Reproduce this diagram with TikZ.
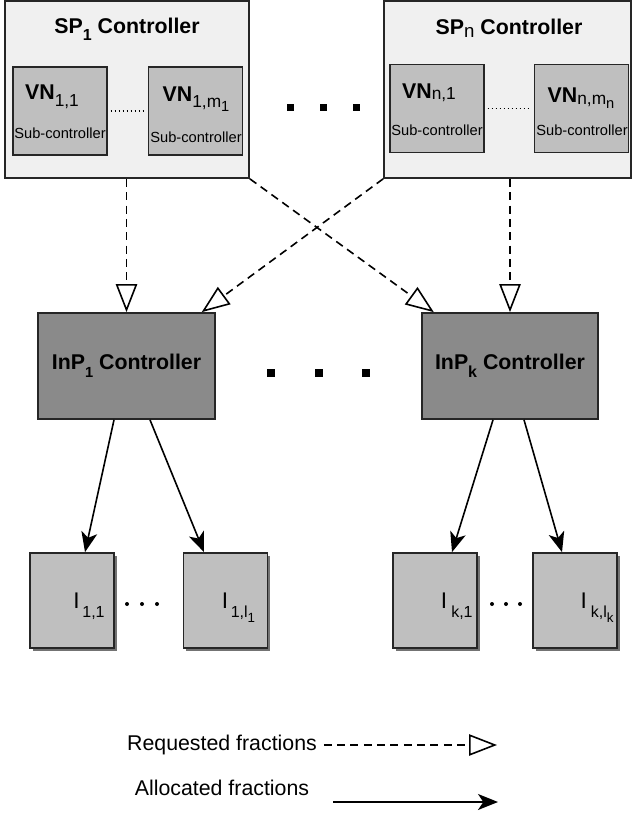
\documentclass[tikz,border=0pt]{standalone}
\usepackage{fontspec}
\setmainfont{Liberation Sans}
\usetikzlibrary{arrows.meta, calc, shadows}

\definecolor{spfill}{gray}{0.94}
\definecolor{vnfill}{gray}{0.75}
\definecolor{inpfill}{gray}{0.54}
\definecolor{ifill}{gray}{0.75}

% lowered index: [size]{drop}{text}
\newcommand{\lowtext}[3][11]{\raisebox{-#2}{\fontsize{#1}{#1}\selectfont #3}}

\tikzset{
  spbox/.style={draw=black!85, line width=1.3pt, fill=spfill, inner sep=0pt, minimum height=132.75pt},
  vnbox/.style={draw=black!85, line width=1.3pt, fill=vnfill, inner sep=0pt, minimum width=70.5pt, minimum height=66pt},
  inpbox/.style={draw=black!85, line width=1.3pt, fill=inpfill, inner sep=0pt, minimum width=132.5pt, minimum height=79.5pt, font=\fontsize{16}{18}\selectfont\bfseries},
  ibox/.style={draw=black!85, line width=1.3pt, fill=ifill, inner sep=0pt, minimum width=63pt, minimum height=71.25pt, drop shadow={shadow xshift=2pt, shadow yshift=-2pt, fill=black!55, opacity=1}},
  titletext/.style={font=\fontsize{16}{18}\selectfont\bfseries, inner sep=0pt},
  vntext/.style={font=\fontsize{16}{18}\selectfont, inner sep=0pt},
  subtext/.style={font=\fontsize{11}{12}\selectfont, inner sep=0pt},
  itext/.style={font=\fontsize{17}{19}\selectfont, inner sep=0pt, anchor=base east},
  legendtext/.style={font=\fontsize{16}{18}\selectfont, inner sep=0pt},
  vndots/.style={line width=1.2pt, dash pattern=on 1.2pt off 1.8pt, shorten <=2pt, shorten >=2pt},
  reqarrow/.style={line width=1.2pt, dash pattern=on 6pt off 4pt, -{Triangle[open, length=21pt, width=16pt, line width=1.2pt]}},
  allocarrow/.style={line width=1.2pt, -{Stealth[length=15pt, width=12pt, inset=4pt]}},
}

\begin{document}
\begin{tikzpicture}[x=0.75pt, y=-0.75pt]
  \useasboundingbox (0,0) rectangle (632,816);

  % SP controllers
  \node[spbox, minimum width=183pt] (SP1) at (127,89.5) {};
  \node[spbox, minimum width=185.25pt] (SPn) at (507.5,89.5) {};
  \node[titletext] (SP1title) at (127,29) {SP\lowtext[12]{5pt}{1} Controller};
  \node[titletext] (SPntitle) at (509,28) {SP\lowtext[14]{2pt}{\mdseries n} Controller};

  % VN sub-controllers
  \node[vnbox] (VN11) at (60,111) {};
  \node[vnbox] (VN1m) at (195.5,111) {};
  \node[vnbox] (VNn1) at (437,108.5) {};
  \node[vnbox] (VNnm) at (581.5,108.5) {};

  \node[vntext] (VN11name) at (52,97) {\textbf{VN}\lowtext[13]{5pt}{1,1}};
  \node[vntext] (VN1mname) at (196,99) {\textbf{VN}\lowtext[13]{5pt}{1,m\lowtext[11]{3pt}{1}}};
  \node[vntext] (VNn1name) at (429,93) {\textbf{VN}\lowtext[13]{1pt}{n,1}};
  \node[vntext] (VNnmname) at (581,98) {\textbf{VN}\lowtext[13]{1pt}{n,m\lowtext[11]{3pt}{n}}};

  \node[subtext] (VN11sub) at (60,133) {Sub-controller};
  \node[subtext] (VN1msub) at (196,137) {Sub-controller};
  \node[subtext] (VNn1sub) at (437,130) {Sub-controller};
  \node[subtext] (VNnmsub) at (582,130) {Sub-controller};

  \draw[vndots] (VN11.east) -- (VN1m.west);
  \draw[vndots] (VNn1.east) -- (VNnm.west);

  \foreach \dx in {290,323,356} {
      \fill (\dx-3.5,104.5) rectangle ++(7,7);
  }

  % InP controllers
  \node[inpbox] (InP1) at (126.5,366) {InP\lowtext[11]{6pt}{1} Controller};
  \node[inpbox] (InPk) at (510,366) {InP\lowtext[12]{6pt}{k} Controller};

  \foreach \dx in {271,319,366} {
      \fill (\dx-4,369) rectangle ++(8,8);
  }

  % requests
  \draw[reqarrow] (InP1.north |- SP1.south) -- (InP1.north);
  \draw[reqarrow] (SP1.south east) -- ($(InPk.north west)+(13,0)$);
  \draw[reqarrow] (SPn.south west) -- ($(InP1.north east)+(-14,0)$);
  \draw[reqarrow] (InPk.north |- SPn.south) -- (InPk.north);

  % infrastructure
  \node[ibox] (I11) at (72,600.5) {};
  \node[ibox] (I1l) at (225.5,600.5) {};
  \node[ibox] (Ik1) at (435,600.5) {};
  \node[ibox] (Ikl) at (575,600.5) {};

  \node[itext] (I11label) at ($(I11.east)+(-10,7.5)$) {I\kern2pt\lowtext[12]{7pt}{1,1}};
  \node[itext] (I1llabel) at ($(I1l.east)+(-13,7.5)$) {I\kern2pt\lowtext[12]{7pt}{1,l\lowtext[10]{4pt}{1}}};
  \node[itext] (Ik1label) at ($(Ik1.east)+(-5,7.5)$) {I\kern3pt\lowtext[12]{7pt}{k,1}};
  \node[itext] (Ikllabel) at ($(Ikl.east)+(-4,7.5)$) {I\kern3pt\lowtext[12]{7pt}{k,l\lowtext[10]{4pt}{k}}};

  \foreach \dx in {127,142,157,492,506,520} {
      \fill (\dx,604) circle (1.5pt);
  }

  % allocations
  \draw[allocarrow] ($(InP1.south)+(-12.5,0)$) -- ($(I11.north)+(13,0)$);
  \draw[allocarrow] ($(InP1.south)+(23.5,0)$) -- ($(I1l.north)+(-21.5,0)$);
  \draw[allocarrow] ($(InPk.south)+(-17,0)$) -- ($(Ik1.north)+(17,0)$);
  \draw[allocarrow] ($(InPk.south)+(14,0)$) -- ($(Ikl.north)+(-13,0)$);

  % legend
  \node[legendtext] (reqtext) at (222,745) {Requested fractions};
  \coordinate (reqend) at (497,745);
  \draw[reqarrow, shorten <=5pt] (reqtext.east) -- (reqend);

  \node[legendtext] (alloctext) at (222,788) {Allocated fractions};
  \coordinate (allocstart) at (333,802);
  \coordinate (allocend) at (498,802);
  \draw[allocarrow] (allocstart) -- (allocend);
\end{tikzpicture}
\end{document}
